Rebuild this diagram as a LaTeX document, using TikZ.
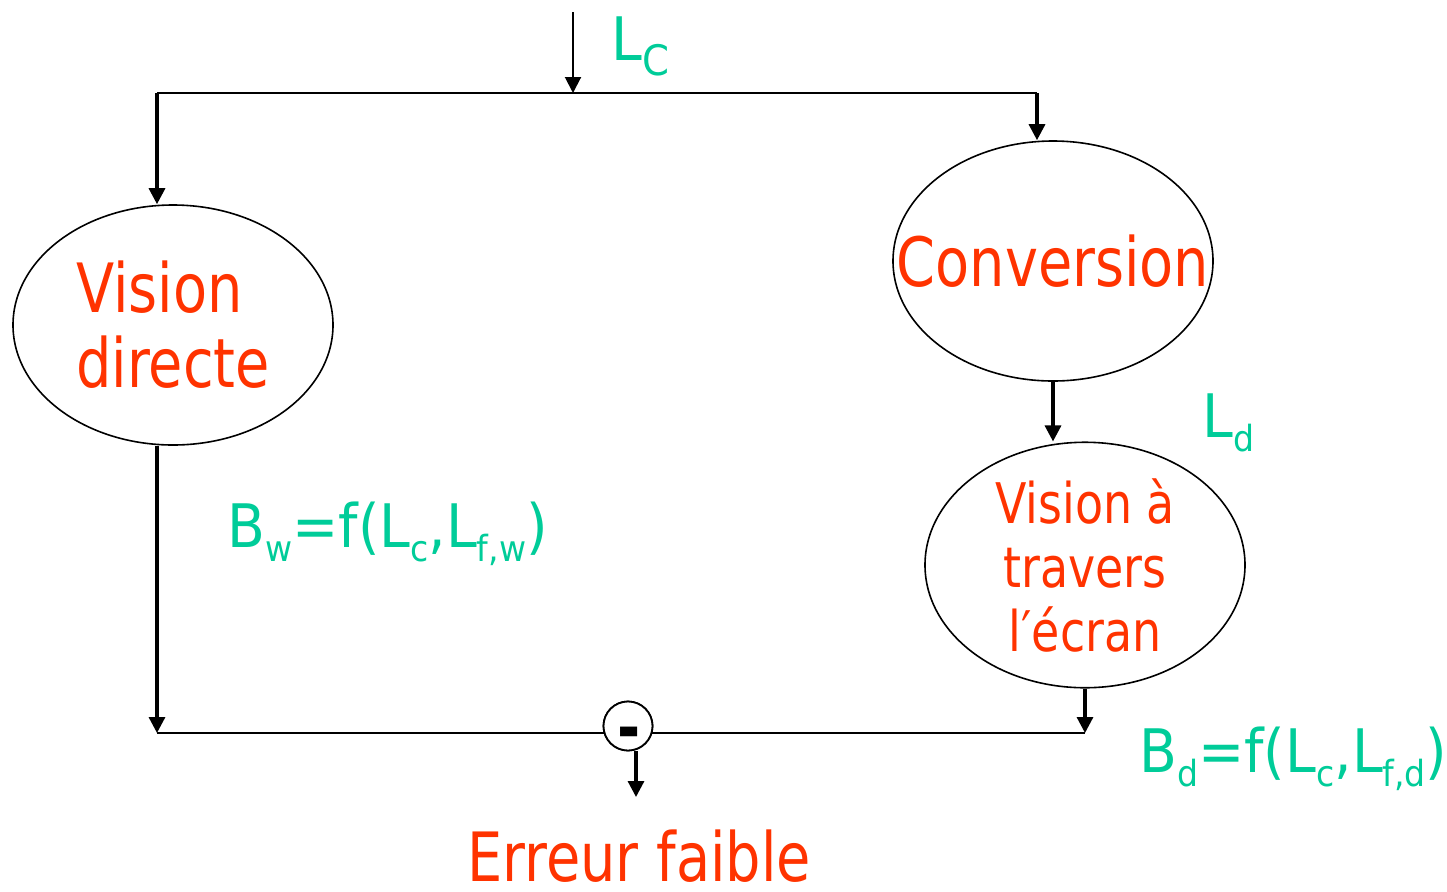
\documentclass[tikz,border=0pt]{standalone}
\usepackage{fontspec}
\setmainfont{DejaVu Sans}[FakeStretch=0.82]
\newfontfamily\sigfont{DejaVu Sans}[FakeStretch=0.92]
\usepackage{xcolor}
\usepackage{tikz}
\usetikzlibrary{arrows.meta,shapes.geometric,positioning}
\definecolor{txtred}{HTML}{FF3300}
\definecolor{txtgreen}{HTML}{00CC99}
\newcommand{\lowtx}[1]{\raisebox{-7pt}{\fontsize{18}{18}\selectfont #1}}
\tikzset{
  blob/.style    = {ellipse, draw, line width=0.8pt, minimum width=160pt,
                    minimum height=120pt, inner sep=0pt, text=txtred},
  bigtxt/.style  = {font=\fontsize{34}{37.5}\selectfont},
  midtxt/.style  = {font=\fontsize{28}{32}\selectfont},
  sig/.style     = {text=txtgreen, inner sep=0pt, anchor=base west,
                    font=\sigfont\fontsize{30}{30}\selectfont},
  flow/.style    = {-{Triangle[length=8pt,width=8pt]}, line width=1.6pt},
  wire/.style    = {line width=0.9pt},
  sumnode/.style = {circle, draw, fill=white, line width=0.9pt,
                    minimum size=24.5pt, inner sep=0pt},
  minusmark/.style = {inner sep=0pt, font=\fontsize{34}{34}\selectfont\bfseries},
}
\begin{document}
\begin{tikzpicture}[x=0.5pt,y=-0.5pt]
  \useasboundingbox (0,0) rectangle (1447,891);
  % blocks
  \node[blob,bigtxt,align=left]  (direct) at (173,325) {Vision\\directe};
  \node[blob,bigtxt,inner xsep=-30pt] (conv) at (1053,261) {Conversion};
  \node[blob,midtxt,align=center] (ecran) at (1085,565) {Vision à\\travers\\ l′écran};
  \node[sumnode] (sum) at (628,726) {};
  % junctions
  \coordinate (in) at (573,12);
  \coordinate (tl) at (157,93);
  \coordinate (tr) at (1037,93);
  \coordinate (bl) at (157,733);
  \coordinate (br) at (1085,733);
  \coordinate (out) at (636,797);
  % connectors
  \draw[flow,line width=1pt] (in) -- (in |- tl);
  \draw[wire] (tl) -- (tr);
  \draw[flow] (tl) -- (tl |- direct.north);
  \draw[flow] (tr) -- (tr |- conv.north);
  \draw[flow] (conv.south) -- (conv.south |- ecran.north);
  \draw[flow] (direct.south -| tl) -- (bl);
  \draw[flow] (ecran.south) -- (br);
  \draw[wire] (bl) -- (br);
  \node[sumnode] at (sum) {};
  \node[minusmark] (minus) at (629,739) {-};
  \draw[flow] (sum.south -| out) -- (out);
  % labels
  \node[sig,font=\sigfont\fontsize{30}{30}\selectfont] (lc) at (611,60)
    {L\raisebox{-7.5pt}{\fontsize{21}{21}\selectfont C}};
  \node[sig] (ld) at (1202,437) {L\lowtx{d}};
  \node[sig] (bw) at (227,547) {B\lowtx{w}=f(L\lowtx{c},L\lowtx{f,w})};
  \node[sig] (bd) at (1139,772) {B\lowtx{d}=f(L\lowtx{c},L\lowtx{f,d})};
  \node[inner sep=0pt,anchor=base west,text=txtred,bigtxt] (err) at (467,881) {Erreur faible};
\end{tikzpicture}
\end{document}
